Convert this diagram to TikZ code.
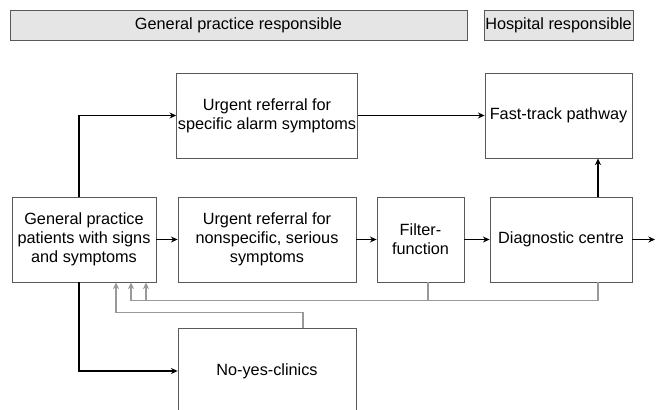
\documentclass[tikz,border=0pt]{standalone}
\usepackage{fontspec}
\setmainfont{Liberation Sans}
\usetikzlibrary{arrows.meta}
\usetikzlibrary{positioning}
\definecolor{boxline}{gray}{0.35}
\definecolor{headfill}{gray}{0.9}
\definecolor{backline}{gray}{0.6}

\begin{document}
\begin{tikzpicture}[x=0.75pt,y=-0.75pt,
    box/.style={draw=boxline,line width=0.6pt,align=center,inner sep=1pt,
                font=\fontsize{12.2}{14.4}\selectfont,minimum height=63.75pt},
    head/.style={box,fill=headfill,minimum height=22.5pt},
    flow/.style={line width=0.9pt,-{Stealth[length=5pt,width=4.5pt]}},
    back/.style={color=backline,line width=0.9pt,-{Stealth[length=5pt,width=4.5pt]}}]
  \useasboundingbox (0,0) rectangle (656,410);
  \clip (0,0) rectangle (656,410);

  % headers
  \node[head,minimum width=342.75pt] (hdgp) at (238.5,25) {General practice responsible};
  \node[head,minimum width=110.25pt] (hdhosp) at (558.5,25) {Hospital responsible};

  % boxes
  \node[box,minimum width=133.5pt] (alarm) at (267,115.5) {Urgent referral for\\specific alarm symptoms};
  \node[box,minimum width=110.25pt] (fast) at (558.5,115.5) {Fast-track pathway};
  \node[box,minimum width=108pt] (gp) at (84,239.5) {General practice\\patients with signs\\and symptoms};
  \node[box,minimum width=133.5pt] (nonspec) at (267,239.5) {Urgent referral for\\nonspecific, serious\\symptoms};
  \node[box,minimum width=65.25pt] (filter) at (420.5,239.5) {Filter-\\function};
  \node[box,minimum width=106.5pt] (diag) at (561,239.5) {Diagnostic centre};
  \node[box,minimum width=133.5pt,minimum height=64.5pt] (noyes) at (267,371) {No-yes-clinics};
  \coordinate (out) at (655,239.5);

  % main flow
  \draw[flow] ([xshift=-3.75pt]gp.north) |- (alarm.west);
  \draw[flow] (alarm.east) -- (alarm.east -| fast.west);
  \draw[flow] (gp) -- (nonspec);
  \draw[flow] (nonspec) -- (filter);
  \draw[flow] (filter) -- (diag);
  \draw[flow] (diag.east) -- (out);
  \draw[flow] ([xshift=27.75pt]diag.north) -- ([xshift=27.75pt]diag.north |- fast.south);
  \draw[flow] ([xshift=-3.75pt]gp.south) |- (noyes.west);

  % feedback
  \draw[back] ([xshift=5.625pt]filter.south) -- ++(0,18) -| ([xshift=46.5pt]gp.south);
  \draw[back] ([xshift=27.75pt]diag.south) -- ++(0,18) -| ([xshift=35.25pt]gp.south);
  \draw[back] ([xshift=27pt]noyes.north) -- ++(0,-15) -| ([xshift=24pt]gp.south);
\end{tikzpicture}
\end{document}
